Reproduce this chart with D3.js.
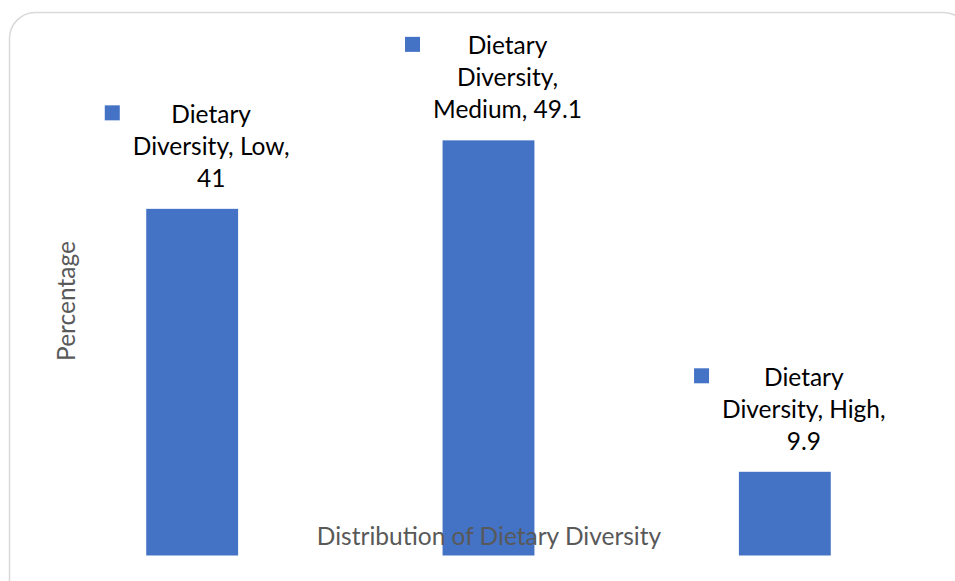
<!DOCTYPE html>
<html>
<head>
<meta charset="utf-8">
<script src="https://cdn.jsdelivr.net/npm/d3@7"></script>
<style>
  body { margin: 0; background: #fff; }
  svg { display: block; }
</style>
</head>
<body>
<div id="chart"></div>
<script>
// data
var categories = ["Low", "Medium", "High"];
var values = [41, 49.1, 9.9];
var labelLines = [
  ["Dietary", "Diversity, Low,", "41"],
  ["Dietary", "Diversity,", "Medium, 49.1"],
  ["Dietary", "Diversity, High,", "9.9"]
];
var xTitle = "Distribution of Dietary Diversity";
var yTitle = "Percentage";

var svgWidth = 955;
var svgHeight = 581;
var barColor = "#4472C4";
var font = "Lato, 'Open Sans', sans-serif";
var fontSize = "24.5px";

var svg = d3.select("#chart")
  .append("svg")
  .attr("width", svgWidth)
  .attr("height", svgHeight);

// chart frame (rounded, runs off right and bottom)
svg.append("rect")
  .attr("x", 9.5)
  .attr("y", 12.5)
  .attr("width", 960)
  .attr("height", 620)
  .attr("rx", 26)
  .attr("fill", "#fff")
  .attr("stroke", "#d9d9d9")
  .attr("stroke-width", 1.5);

// scales
var x = d3.scaleBand()
  .domain(categories)
  .range([44, 933])
  .paddingInner(0.69)
  .paddingOuter(0.345);

var y = d3.scaleLinear()
  .domain([0, 60])
  .range([555.5, 555.5 - 60 * 8.455]);

// bars
svg.selectAll(".bar")
  .data(categories)
  .enter()
  .append("rect")
  .attr("class", "bar")
  .attr("x", d => x(d))
  .attr("y", (d, i) => y(values[i]))
  .attr("width", x.bandwidth())
  .attr("height", (d, i) => y(0) - y(values[i]))
  .attr("fill", barColor);

// data labels with legend key
categories.forEach(function(c, i) {
  var cx = x(c) + x.bandwidth() / 2 + 19;
  var lastBase = y(values[i]) - 22;
  var lines = labelLines[i];
  var lineH = 32;
  var g = svg.append("g");
  var maxW = 0;
  lines.forEach(function(t, j) {
    var txt = g.append("text")
      .attr("x", cx)
      .attr("y", lastBase - (lines.length - 1 - j) * lineH)
      .attr("text-anchor", "middle")
      .attr("font-family", font)
      .attr("font-size", fontSize)
      .attr("fill", "#000")
      .text(t);
    maxW = Math.max(maxW, txt.node().getComputedTextLength());
  });
  var firstBase = lastBase - (lines.length - 1) * lineH;
  g.append("rect")
    .attr("x", cx - maxW / 2 - 28)
    .attr("y", firstBase - 17.5)
    .attr("width", 15)
    .attr("height", 15)
    .attr("fill", barColor);
});

// axis titles
svg.append("text")
  .attr("x", 489)
  .attr("y", 545)
  .attr("text-anchor", "middle")
  .attr("font-family", font)
  .attr("font-size", fontSize)
  .attr("fill", "#595959")
  .text(xTitle);

svg.append("text")
  .attr("transform", "translate(75, 301) rotate(-90)")
  .attr("text-anchor", "middle")
  .attr("font-family", font)
  .attr("font-size", fontSize)
  .attr("fill", "#595959")
  .text(yTitle);
</script>
</body>
</html>
